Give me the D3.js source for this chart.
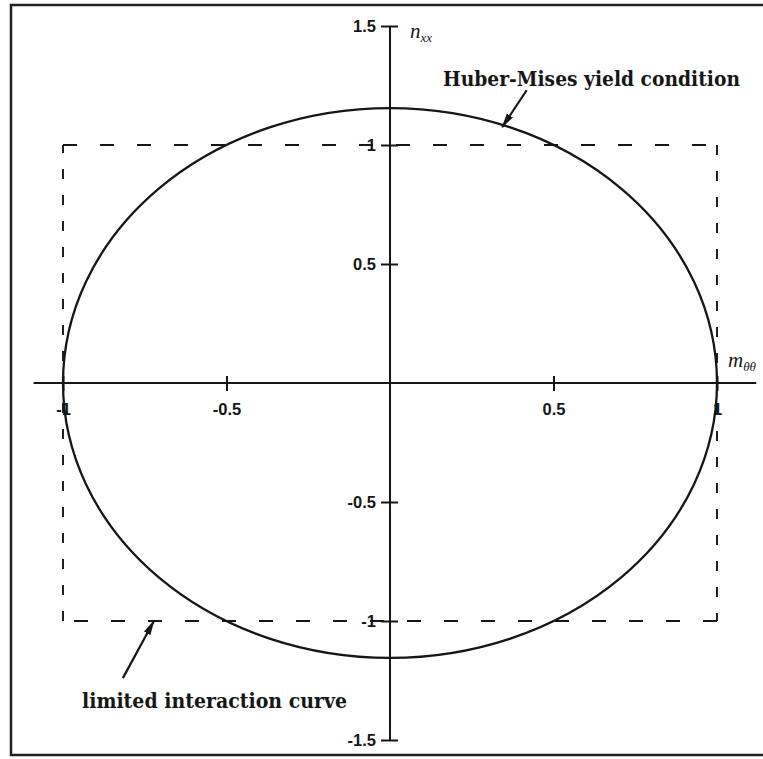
<!DOCTYPE html>
<html>
<head>
<meta charset="utf-8">
<script src="https://cdn.jsdelivr.net/npm/d3@7"></script>
<style>
  body { margin: 0; background: #fff; }
  svg { display: block; }
</style>
</head>
<body>
<svg id="chart" width="763" height="759"></svg>
<script>
// Tick positions and their printed labels
const xTicks = [-1, -0.5, 0.5, 1];
const xTickLabels = ["-1", "-0.5", "0.5", "1"];
const yTicks = [-1.5, -1, -0.5, 0.5, 1, 1.5];
const yTickLabels = ["-1.5", "-1", "-0.5", "0.5", "1", "1.5"];

// Extent of the drawn axis lines (data units)
const xAxisExtent = [-1.09, 1.12];
const yAxisExtent = [-1.5, 1.5];

// Huber-Mises yield ellipse: intercepts on the m and n axes
const yieldIntercepts = { m: 1.0, n: 1.155 };

// Limited interaction curve: square corners (m, n)
const interactionCurve = [[-1, 1], [1, 1], [1, -1], [-1, -1], [-1, 1]];

// Annotation arrows (data units): [tail, head]
const yieldArrow = [[0.418, 1.23], [0.343, 1.075]];
const interactionArrow = [[-0.817, -1.24], [-0.722, -1.0]];

const svg = d3.select("#chart");

const x = d3.scaleLinear().domain([-1, 1]).range([63, 717]);
const y = d3.scaleLinear().domain([-1, 1]).range([621, 145]);

const ink = "#161616";

// Frame around the figure
svg.append("path")
  .attr("d", "M763,5 H11 V755 H763")
  .attr("fill", "none")
  .attr("stroke", "#222")
  .attr("stroke-width", 2.5);

// Arrowhead marker
svg.append("defs").append("marker")
  .attr("id", "arrowhead")
  .attr("viewBox", "0 0 15 9")
  .attr("refX", 14).attr("refY", 4.5)
  .attr("markerWidth", 15).attr("markerHeight", 9)
  .attr("markerUnits", "userSpaceOnUse")
  .attr("orient", "auto")
  .append("path")
  .attr("d", "M0,0.8 L15,4.5 L0,8.2 Z")
  .attr("fill", ink);

// Limited interaction curve (dashed square)
const sides = d3.pairs(interactionCurve);
svg.append("g").selectAll("line")
  .data(sides)
  .join("line")
  .attr("x1", d => x(d[0][0])).attr("y1", d => y(d[0][1]))
  .attr("x2", d => x(d[1][0])).attr("y2", d => y(d[1][1]))
  .attr("stroke", ink)
  .attr("stroke-width", 1.9)
  .attr("stroke-dasharray", d => d[0][1] === d[1][1] ? "14,23" : "10,16");

// Huber-Mises yield condition ellipse
svg.append("ellipse")
  .attr("cx", x(0)).attr("cy", y(0))
  .attr("rx", x(yieldIntercepts.m) - x(0))
  .attr("ry", y(0) - y(yieldIntercepts.n))
  .attr("fill", "none")
  .attr("stroke", ink)
  .attr("stroke-width", 2.3);

// Horizontal axis (m)
const xAxis = svg.append("g")
  .attr("transform", `translate(0,${y(0)})`)
  .call(d3.axisBottom(x).tickValues(xTicks).tickSize(0).tickFormat((d, i) => xTickLabels[i]));
xAxis.select(".domain").remove();
xAxis.append("line")
  .attr("x1", x(xAxisExtent[0])).attr("x2", x(xAxisExtent[1]))
  .attr("stroke", ink).attr("stroke-width", 2);
xAxis.selectAll(".tick line")
  .attr("y1", -7).attr("y2", 8)
  .attr("stroke", ink).attr("stroke-width", 2);
xAxis.selectAll(".tick text")
  .attr("y", 32).attr("dy", null)
  .attr("fill", ink)
  .style("font", "bold 16.5px 'Liberation Sans', Arial, sans-serif");

// Vertical axis (n)
const yAxis = svg.append("g")
  .attr("transform", `translate(${x(0)},0)`)
  .call(d3.axisLeft(y).tickValues(yTicks).tickSize(0).tickFormat((d, i) => yTickLabels[i]));
yAxis.select(".domain").remove();
yAxis.append("line")
  .attr("y1", y(yAxisExtent[0])).attr("y2", y(yAxisExtent[1]))
  .attr("stroke", ink).attr("stroke-width", 2);
yAxis.selectAll(".tick line")
  .attr("x1", -9).attr("x2", 8)
  .attr("stroke", ink).attr("stroke-width", 2);
yAxis.selectAll(".tick text")
  .attr("x", -14).attr("dy", "0.36em")
  .attr("fill", ink)
  .style("font", "bold 16.5px 'Liberation Sans', Arial, sans-serif");

// Axis names
const axisName = (px, py, main, sub) => {
  const t = svg.append("text")
    .attr("x", px).attr("y", py)
    .attr("fill", ink)
    .style("font-family", "'Liberation Serif', 'DejaVu Serif', serif")
    .style("font-style", "italic");
  t.append("tspan").style("font-size", "21px").text(main);
  t.append("tspan").attr("dy", 4).style("font-size", "13px").text(sub);
};
axisName(x(0) + 20, 38, "n", "xx");
axisName(x(1) + 11, y(0) - 16, "m", "θθ");

// Annotations
const annotFont = "bold 20px 'DejaVu Serif', 'Liberation Serif', serif";
svg.append("text")
  .attr("x", 443).attr("y", 86)
  .attr("textLength", 297).attr("lengthAdjust", "spacingAndGlyphs")
  .attr("fill", ink)
  .style("font", annotFont)
  .text("Huber-Mises yield condition");
svg.append("text")
  .attr("x", 82).attr("y", 708)
  .attr("textLength", 265).attr("lengthAdjust", "spacingAndGlyphs")
  .attr("fill", ink)
  .style("font", annotFont)
  .text("limited interaction curve");

[yieldArrow, interactionArrow].forEach(a => {
  svg.append("line")
    .attr("x1", x(a[0][0])).attr("y1", y(a[0][1]))
    .attr("x2", x(a[1][0])).attr("y2", y(a[1][1]))
    .attr("stroke", ink).attr("stroke-width", 2.2)
    .attr("marker-end", "url(#arrowhead)");
});
</script>
</body>
</html>
